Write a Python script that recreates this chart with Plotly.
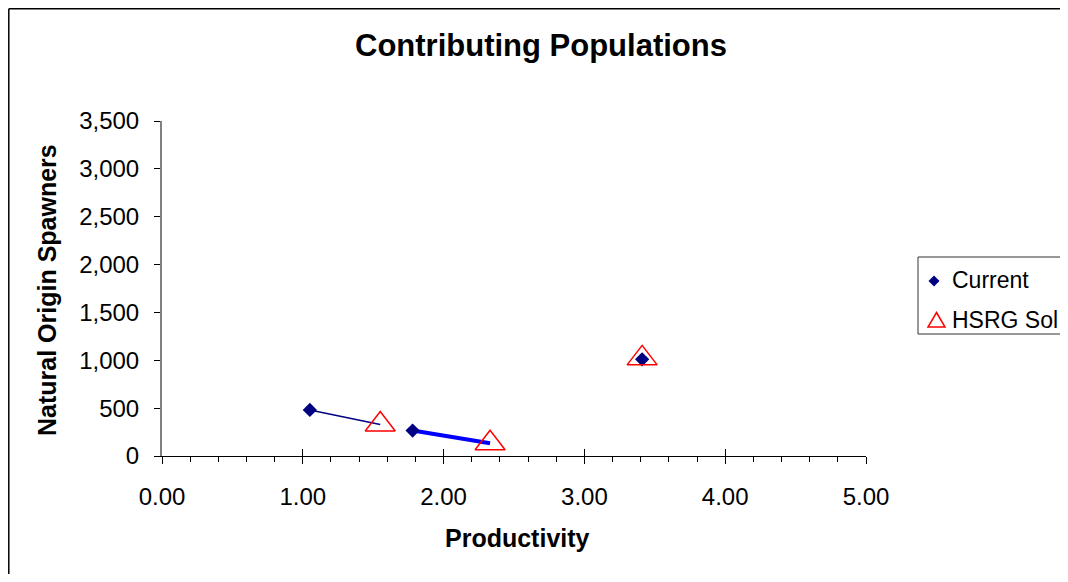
import plotly.graph_objects as go

# Data
populations = ["Pop A", "Pop B", "Pop C"]
current_x = [1.05, 1.78, 3.41]
current_y = [481, 266, 1010]
hsrg_x = [1.55, 2.33, 3.41]
hsrg_y = [329, 133, 1020]
series_names = ["Current", "HSRG Sol"]

x_ticks = [0, 1, 2, 3, 4, 5]
y_ticks = [0, 500, 1000, 1500, 2000, 2500, 3000, 3500]

FONT = "Liberation Sans, Arial, sans-serif"
NAVY = "#000080"
RED = "#FF0000"

# page body has an 8px margin; figure sized so that the page does not scroll
OFF = 8
W, H = 1068 - 2 * OFF, 582 - 2 * OFF
PL, PR, PT, PB = 162 - OFF, 866 - OFF, 121 - OFF, 456 - OFF  # plot area in figure px
PW, PH = PR - PL, PB - PT


def px(xp):
    """window pixel x -> paper coordinate"""
    return (xp - OFF - PL) / PW


def py(yp):
    """window pixel y -> paper coordinate"""
    return (PB - (yp - OFF)) / PH


def path(points):
    return "M " + " L ".join(f"{px(a):.5f},{py(b):.5f}" for a, b in points) + " Z"


fig = go.Figure()

# connector lines (current -> HSRG)
line_colors = [NAVY, "#0000FF", "#0000FF"]
line_widths = [1.5, 4, 1.5]
for i in range(len(populations)):
    fig.add_trace(go.Scatter(
        x=[current_x[i], hsrg_x[i]], y=[current_y[i], hsrg_y[i]],
        mode="lines", line=dict(color=line_colors[i], width=line_widths[i]),
        showlegend=False, hoverinfo="skip"))

fig.add_trace(go.Scatter(
    x=current_x, y=current_y, mode="markers", name=series_names[0],
    showlegend=False,
    marker=dict(symbol="diamond", size=11, color=NAVY, line=dict(width=0))))
fig.add_trace(go.Scatter(
    x=hsrg_x, y=hsrg_y, mode="markers", name=series_names[1],
    showlegend=False,
    marker=dict(symbol="triangle-up-open", size=26, color=RED,
                line=dict(width=1.5, color=RED))))

# inside half of the crossing major ticks on x
fig.add_trace(go.Scatter(x=[None], y=[None], xaxis="x2", showlegend=False))

# legend (box runs off the right edge, as in the reference)
legend_shapes = [
    dict(type="path", xref="paper", yref="paper",
         path="M {a},{b} L {c},{b} M {a},{d} L {c},{d} M {a},{b} L {a},{d}".format(
             a=px(918), b=py(257), c=px(1200), d=py(334)),
         line=dict(color="#333333", width=1)),
    dict(type="path", xref="paper", yref="paper",
         path=path([(934, 275.5), (939.5, 281), (934, 286.5), (928.5, 281)]),
         line=dict(width=0), fillcolor=NAVY),
    dict(type="path", xref="paper", yref="paper",
         path=path([(936.5, 312.5), (945, 327), (928, 327)]),
         line=dict(color=RED, width=1.5), fillcolor="white"),
]
legend_ann = [
    dict(text=series_names[0], xref="paper", yref="paper", x=px(950), y=py(280),
         xanchor="left", yanchor="middle", showarrow=False,
         font=dict(size=23, family=FONT, color="black")),
    dict(text=series_names[1], xref="paper", yref="paper", x=px(950), y=py(320),
         xanchor="left", yanchor="middle", showarrow=False,
         font=dict(size=23, family=FONT, color="black")),
]

# outer chart frame: only its left and top edges fall inside the window
frame = [
    dict(type="line", xref="paper", yref="paper",
         x0=px(8.8), x1=px(8.8), y0=py(700), y1=py(8.8),
         line=dict(color="black", width=1.5), layer="below"),
    dict(type="line", xref="paper", yref="paper",
         x0=px(8.8), x1=px(1300), y0=py(8.8), y1=py(8.8),
         line=dict(color="black", width=1.5), layer="below"),
]

fig.update_layout(
    width=W, height=H,
    margin=dict(l=PL, r=W - PR, t=PT, b=H - PB, autoexpand=False),
    paper_bgcolor="white", plot_bgcolor="white",
    showlegend=False,
    font=dict(family=FONT, color="black", size=24),
    title=dict(text="<b>Contributing Populations</b>", x=(541 - OFF) / W, xref="container",
               xanchor="center", y=1 - (45 - OFF) / H, yref="container", yanchor="middle",
               font=dict(size=31, family=FONT, color="black")),
    xaxis=dict(range=[0, 5], tickvals=x_ticks, tickformat=".2f",
               showgrid=False, zeroline=False, showline=True,
               linecolor="black", linewidth=1,
               ticks="outside", ticklen=7, tickcolor="black", tickwidth=1,
               minor=dict(dtick=0.2, ticks="outside", ticklen=5,
                          tickcolor="black", showgrid=False),
               ticklabelstandoff=12, tickfont=dict(size=24)),
    xaxis2=dict(range=[0, 5], overlaying="x", matches="x", tickvals=x_ticks,
                showticklabels=False, showgrid=False, zeroline=False,
                showline=False, ticks="inside", ticklen=7, tickcolor="black",
                side="bottom", anchor="y"),
    yaxis=dict(range=[0, 3500], tickvals=y_ticks, tickformat=",",
               showgrid=False, zeroline=False, showline=True,
               linecolor="#808080", linewidth=2,
               ticks="outside", ticklen=6, tickcolor="black", tickwidth=1,
               ticklabelstandoff=10, tickfont=dict(size=24)),
    annotations=[
        dict(text="<b>Productivity</b>", xref="paper", yref="paper",
             x=px(517), y=py(538), xanchor="center",
             yanchor="middle", showarrow=False, font=dict(size=25, family=FONT)),
        dict(text="<b>Natural Origin Spawners</b>", xref="paper", yref="paper",
             x=px(47), y=py(290), xanchor="center",
             yanchor="middle", textangle=-90, showarrow=False,
             font=dict(size=25, family=FONT)),
    ] + legend_ann,
    shapes=frame + legend_shapes,
)

fig.write_html("out.html")
